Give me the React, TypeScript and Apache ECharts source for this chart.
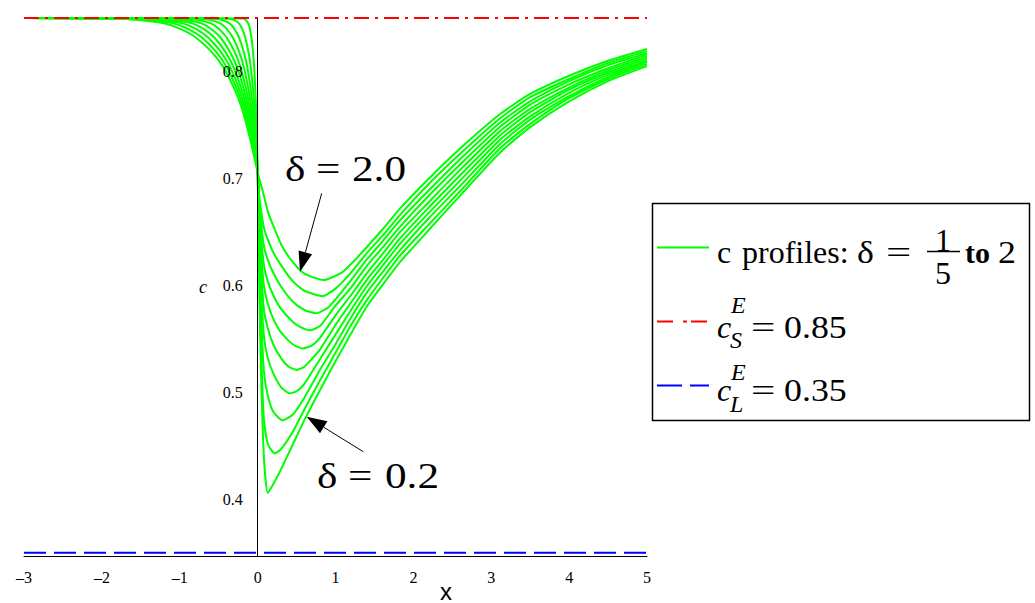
import { useEffect, useRef } from 'react';
import * as echarts from 'echarts';

// Concentration profiles c(x) for interface widths delta = 0.2 ... 2.0
const deltaLabels = ['0.2', '0.4', '0.6', '0.8', '1.0', '1.2', '1.4', '1.6', '1.8', '2.0'];

const profileDelta02: [number, number][] = [
  [-3, 0.85], [-0.19, 0.8495], [-0.15, 0.848], [-0.12, 0.845], [-0.1, 0.84], [-0.08, 0.832], [-0.06, 0.819], [-0.045, 0.805],
  [-0.03, 0.784], [-0.02, 0.765], [-0.01, 0.738],
  [0, 0.708], [0.02, 0.61], [0.04, 0.53], [0.08, 0.44], [0.13, 0.406], [0.2, 0.414], [0.3, 0.428], [0.45, 0.451], [0.6, 0.474],
  [0.8, 0.502], [1.0, 0.529], [1.2, 0.555], [1.4, 0.58], [1.6, 0.6], [1.83, 0.622], [2.2, 0.652], [2.6, 0.684], [3.11, 0.724],
  [3.5, 0.748], [4.0, 0.772], [4.5, 0.791], [5.0, 0.805],
];
const profileDelta04: [number, number][] = [
  [-3, 0.85], [-0.38, 0.8495], [-0.3, 0.848], [-0.24, 0.845], [-0.2, 0.84], [-0.16, 0.832], [-0.12, 0.819], [-0.09, 0.805],
  [-0.06, 0.784], [-0.04, 0.765], [-0.02, 0.738],
  [0, 0.708], [0.02, 0.62], [0.04, 0.55], [0.08, 0.475], [0.13, 0.452], [0.22, 0.443], [0.3, 0.447], [0.45, 0.463], [0.6, 0.484],
  [0.8, 0.511], [1.0, 0.537], [1.2, 0.563], [1.4, 0.586], [1.6, 0.606], [1.83, 0.628], [2.2, 0.657], [2.6, 0.688], [3.11, 0.728],
  [3.5, 0.751], [4.0, 0.775], [4.5, 0.793], [5.0, 0.807],
];
const profileDelta06: [number, number][] = [
  [-3, 0.85], [-0.57, 0.8495], [-0.45, 0.848], [-0.36, 0.845], [-0.3, 0.84], [-0.24, 0.832], [-0.18, 0.819], [-0.135, 0.805],
  [-0.09, 0.784], [-0.06, 0.765], [-0.03, 0.738],
  [0, 0.708], [0.02, 0.632], [0.04, 0.58], [0.08, 0.52], [0.13, 0.497], [0.2, 0.482], [0.32, 0.474], [0.45, 0.479], [0.6, 0.495],
  [0.8, 0.521], [1.0, 0.545], [1.2, 0.57], [1.4, 0.593], [1.6, 0.612], [1.83, 0.633], [2.2, 0.663], [2.6, 0.693], [3.11, 0.732],
  [3.5, 0.755], [4.0, 0.777], [4.5, 0.795], [5.0, 0.809],
];
const profileDelta08: [number, number][] = [
  [-3, 0.85], [-0.76, 0.8495], [-0.6, 0.848], [-0.48, 0.845], [-0.4, 0.84], [-0.32, 0.832], [-0.24, 0.819], [-0.18, 0.805],
  [-0.12, 0.784], [-0.08, 0.765], [-0.04, 0.738],
  [0, 0.708], [0.02, 0.643], [0.04, 0.6], [0.08, 0.553], [0.13, 0.532], [0.2, 0.518], [0.3, 0.505], [0.41, 0.499], [0.5, 0.501],
  [0.6, 0.508], [0.8, 0.531], [1.0, 0.554], [1.2, 0.577], [1.4, 0.599], [1.6, 0.618], [1.83, 0.639], [2.2, 0.668], [2.6, 0.698],
  [3.11, 0.736], [3.5, 0.758], [4.0, 0.78], [4.5, 0.797], [5.0, 0.81],
];
const profileDelta10: [number, number][] = [
  [-3, 0.85], [-0.95, 0.8495], [-0.75, 0.848], [-0.6, 0.845], [-0.5, 0.84], [-0.4, 0.832], [-0.3, 0.819], [-0.225, 0.805],
  [-0.15, 0.784], [-0.1, 0.765], [-0.05, 0.738],
  [0, 0.708], [0.02, 0.652], [0.04, 0.62], [0.08, 0.578], [0.13, 0.56], [0.2, 0.545], [0.3, 0.532], [0.4, 0.524], [0.5, 0.521],
  [0.6, 0.524], [0.8, 0.54], [1.0, 0.563], [1.2, 0.584], [1.4, 0.605], [1.6, 0.623], [1.83, 0.644], [2.2, 0.673], [2.6, 0.703],
  [3.11, 0.74], [3.5, 0.762], [4.0, 0.783], [4.5, 0.799], [5.0, 0.812],
];
const profileDelta12: [number, number][] = [
  [-3, 0.85], [-1.14, 0.8495], [-0.9, 0.848], [-0.72, 0.845], [-0.6, 0.84], [-0.48, 0.832], [-0.36, 0.819], [-0.27, 0.805],
  [-0.18, 0.784], [-0.12, 0.765], [-0.06, 0.738],
  [0, 0.708], [0.02, 0.66], [0.04, 0.635], [0.08, 0.6], [0.13, 0.583], [0.2, 0.569], [0.3, 0.556], [0.45, 0.545], [0.58, 0.541],
  [0.7, 0.544], [0.8, 0.551], [1.0, 0.572], [1.2, 0.591], [1.4, 0.611], [1.6, 0.629], [1.83, 0.65], [2.2, 0.678], [2.6, 0.708],
  [3.11, 0.744], [3.5, 0.765], [4.0, 0.785], [4.5, 0.801], [5.0, 0.814],
];
const profileDelta14: [number, number][] = [
  [-3, 0.85], [-1.33, 0.8495], [-1.05, 0.848], [-0.84, 0.845], [-0.7, 0.84], [-0.56, 0.832], [-0.42, 0.819], [-0.315, 0.805],
  [-0.21, 0.784], [-0.14, 0.765], [-0.07, 0.738],
  [0, 0.708], [0.02, 0.668], [0.04, 0.648], [0.08, 0.619], [0.13, 0.604], [0.2, 0.591], [0.3, 0.578], [0.45, 0.566], [0.55, 0.561],
  [0.67, 0.558], [0.8, 0.562], [1.0, 0.581], [1.2, 0.598], [1.4, 0.618], [1.6, 0.635], [1.83, 0.655], [2.2, 0.684], [2.6, 0.713],
  [3.11, 0.748], [3.5, 0.769], [4.0, 0.788], [4.5, 0.803], [5.0, 0.816],
];
const profileDelta16: [number, number][] = [
  [-3, 0.85], [-1.52, 0.8495], [-1.2, 0.848], [-0.96, 0.845], [-0.8, 0.84], [-0.64, 0.832], [-0.48, 0.819], [-0.36, 0.805],
  [-0.24, 0.784], [-0.16, 0.765], [-0.08, 0.738],
  [0, 0.708], [0.02, 0.676], [0.04, 0.66], [0.08, 0.637], [0.13, 0.624], [0.2, 0.612], [0.3, 0.599], [0.45, 0.585], [0.6, 0.577],
  [0.75, 0.574], [0.9, 0.579], [1.0, 0.587], [1.2, 0.605], [1.4, 0.624], [1.6, 0.641], [1.83, 0.661], [2.2, 0.689], [2.6, 0.718],
  [3.11, 0.752], [3.5, 0.772], [4.0, 0.791], [4.5, 0.806], [5.0, 0.817],
];
const profileDelta18: [number, number][] = [
  [-3, 0.85], [-1.71, 0.8495], [-1.35, 0.848], [-1.08, 0.845], [-0.9, 0.84], [-0.72, 0.832], [-0.54, 0.819], [-0.405, 0.805],
  [-0.27, 0.784], [-0.18, 0.765], [-0.09, 0.738],
  [0, 0.708], [0.02, 0.684], [0.04, 0.672], [0.08, 0.654], [0.13, 0.643], [0.2, 0.631], [0.3, 0.619], [0.45, 0.604], [0.6, 0.595],
  [0.83, 0.59], [1.0, 0.597], [1.2, 0.612], [1.4, 0.63], [1.6, 0.646], [1.83, 0.666], [2.2, 0.695], [2.6, 0.723], [3.11, 0.756],
  [3.5, 0.776], [4.0, 0.793], [4.5, 0.808], [5.0, 0.819],
];
const profileDelta20: [number, number][] = [
  [-3, 0.85], [-1.9, 0.8495], [-1.5, 0.848], [-1.2, 0.845], [-1.0, 0.84], [-0.8, 0.832], [-0.6, 0.819], [-0.45, 0.805],
  [-0.3, 0.784], [-0.2, 0.765], [-0.1, 0.738],
  [0, 0.706], [0.02, 0.7], [0.04, 0.695], [0.08, 0.684], [0.135, 0.668], [0.2, 0.656], [0.31, 0.637], [0.45, 0.622], [0.6, 0.611],
  [0.85, 0.605], [1.08, 0.612], [1.2, 0.62], [1.38, 0.634], [1.6, 0.652], [1.83, 0.672], [2.2, 0.7], [2.6, 0.728], [3.11, 0.76],
  [3.5, 0.779], [4.0, 0.796], [4.5, 0.81], [5.0, 0.821],
];

const profiles = [
  profileDelta02, profileDelta04, profileDelta06, profileDelta08, profileDelta10,
  profileDelta12, profileDelta14, profileDelta16, profileDelta18, profileDelta20,
];

// equilibrium concentrations
const solidEquilibrium = 0.85;
const liquidEquilibrium = 0.35;

const xMin = -3;
const xMax = 5;
const yMin = 0.347;
const yTickValues = [0.4, 0.5, 0.6, 0.7, 0.8];

// plot area in pixels
const GRID_LEFT = 24;
const GRID_RIGHT = 388;
const PLOT_W = 1035 - GRID_LEFT - GRID_RIGHT;
// the c axis is drawn through x = 0
const Y_AXIS_OFFSET = -((0 - xMin) / (xMax - xMin)) * PLOT_W;

const SERIF = '"Liberation Serif", "Times New Roman", serif';
const SANS = '"Liberation Sans", Arial, sans-serif';

function txt(text: string, x: number, y: number, size: number, opts: Record<string, any> = {}) {
  return {
    type: 'text',
    x,
    y,
    z: 20,
    scaleX: opts.scaleX || 1,
    style: {
      text,
      fill: '#000',
      fontFamily: opts.family || SERIF,
      fontSize: size,
      fontStyle: opts.italic ? 'italic' : 'normal',
      fontWeight: opts.bold ? 'bold' : 'normal',
      align: opts.align || 'left',
      verticalAlign: 'middle',
    },
  };
}

function arrow(x1: number, y1: number, tx: number, ty: number) {
  const dx = tx - x1;
  const dy = ty - y1;
  const len = Math.hypot(dx, dy);
  const ux = dx / len;
  const uy = dy / len;
  const headLen = 20;
  const half = 7;
  const bx = tx - ux * headLen;
  const by = ty - uy * headLen;
  return [
    { type: 'line', z: 20, shape: { x1, y1, x2: bx, y2: by }, style: { stroke: '#000', lineWidth: 1 } },
    {
      type: 'polygon',
      z: 20,
      shape: { points: [[tx, ty], [bx - uy * half, by + ux * half], [bx + uy * half, by - ux * half]] },
      style: { fill: '#000' },
    },
  ];
}

export default function App() {
  const ref = useRef<HTMLDivElement>(null);

  useEffect(() => {
    if (!ref.current) return;
    const chart = echarts.init(ref.current, null, { renderer: 'svg' });

    const profileSeries = profiles.map((data, i) => ({
      name: 'δ = ' + deltaLabels[i],
      type: 'line',
      data,
      showSymbol: false,
      smooth: 0.2,
      lineStyle: { color: '#00ff00', width: 2 },
      z: 2,
    }));

    const annot = { scaleX: 1.2 };
    const wide = { scaleX: 1.12 };

    chart.setOption({
      animation: false,
      backgroundColor: '#ffffff',
      grid: {
        left: GRID_LEFT,
        right: GRID_RIGHT,
        top: 18,
        bottom: 47,
        containLabel: false,
        outerBoundsMode: 'none',
      },
      xAxis: {
        type: 'value',
        min: xMin,
        max: xMax,
        interval: 1,
        axisLine: { show: true, onZero: false, lineStyle: { color: '#000', width: 1 } },
        axisTick: { show: false },
        splitLine: { show: false },
        axisLabel: {
          color: '#000',
          fontFamily: SERIF,
          fontSize: 16,
          margin: 13,
          formatter: (v: number) => (v < 0 ? '\u2013' + Math.abs(v) : String(v)),
        },
      },
      yAxis: {
        type: 'value',
        min: yMin,
        max: solidEquilibrium,
        splitNumber: 5,
        offset: Y_AXIS_OFFSET,
        z: 3,
        axisLine: { show: true, onZero: false, lineStyle: { color: '#000', width: 1 } },
        axisTick: { show: false },
        splitLine: { show: false },
        axisLabel: {
          color: '#000',
          fontFamily: SERIF,
          fontSize: 16,
          margin: 15,
          showMinLabel: false,
          showMaxLabel: false,
          formatter: (v: number) => {
            const hit = yTickValues.find((t) => Math.abs(t - v) < 1e-6);
            return hit === undefined ? '' : hit.toFixed(1);
          },
        },
      },
      series: [
        ...profileSeries,
        {
          name: 'cSE',
          type: 'line',
          data: [[xMin, solidEquilibrium], [xMax, solidEquilibrium]],
          showSymbol: false,
          clip: false,
          lineStyle: { color: '#ff0000', width: 2, type: [15, 6, 3, 6] },
          z: 4,
        },
        {
          name: 'cLE',
          type: 'line',
          data: [[xMin, liquidEquilibrium], [xMax, liquidEquilibrium]],
          showSymbol: false,
          clip: false,
          lineStyle: { color: '#0000ff', width: 2, type: [22, 8] },
          z: 4,
        },
      ],
      graphic: [
        // axis names
        txt('c', 203, 287, 18, { italic: true, align: 'center' }),
        txt('x', 446, 591, 24, { family: SANS, align: 'center' }),
        // annotations
        txt('δ', 285, 169, 36, annot),
        txt('=', 316, 169, 36, annot),
        txt('2.0', 352, 169, 36, annot),
        ...arrow(321.7, 193.3, 300, 271.7),
        txt('δ', 317, 476, 36, annot),
        txt('=', 348, 476, 36, annot),
        txt('0.2', 385, 476, 36, annot),
        ...arrow(363.3, 451.7, 306.7, 416.7),
        // legend box
        {
          type: 'rect',
          z: 15,
          shape: { x: 652.5, y: 203.5, width: 377, height: 217 },
          style: { fill: '#ffffff', stroke: '#000', lineWidth: 1.5 },
        },
        { type: 'line', z: 20, shape: { x1: 657, y1: 247.5, x2: 709, y2: 247.5 }, style: { stroke: '#00ff00', lineWidth: 2 } },
        txt('c', 717, 252, 32),
        txt('profiles:', 742, 252, 32),
        txt('δ', 857, 252, 32, wide),
        txt('=', 886, 252, 32, { scaleX: 1.4 }),
        txt('1', 943, 240, 32, { align: 'center' }),
        { type: 'line', z: 20, shape: { x1: 927, y1: 251.5, x2: 960, y2: 251.5 }, style: { stroke: '#000', lineWidth: 1.5 } },
        txt('5', 943, 273, 32, { align: 'center' }),
        txt('to', 965, 252, 30, { bold: true }),
        txt('2', 998, 252, 32, wide),
        {
          type: 'line',
          z: 20,
          shape: { x1: 657, y1: 321.5, x2: 709, y2: 321.5 },
          style: { stroke: '#ff0000', lineWidth: 2, lineDash: [16, 10, 4, 4] },
        },
        txt('c', 717, 327, 32, { italic: true }),
        txt('E', 731, 305, 24, { italic: true }),
        txt('S', 730, 340, 24, { italic: true }),
        txt('=', 751, 327, 32, { scaleX: 1.35 }),
        txt('0.85', 784, 327, 32, wide),
        {
          type: 'line',
          z: 20,
          shape: { x1: 657, y1: 385.5, x2: 709, y2: 385.5 },
          style: { stroke: '#0000ff', lineWidth: 2, lineDash: [25, 8] },
        },
        txt('c', 717, 390, 32, { italic: true }),
        txt('E', 731, 372, 24, { italic: true }),
        txt('L', 730, 404, 24, { italic: true }),
        txt('=', 751, 390, 32, { scaleX: 1.35 }),
        txt('0.35', 784, 390, 32, wide),
      ],
    });

    return () => chart.dispose();
  }, []);

  return (
    <div
      ref={ref}
      style={{ position: 'fixed', left: 0, top: 0, width: 1035, height: 603, background: '#ffffff' }}
    />
  );
}
